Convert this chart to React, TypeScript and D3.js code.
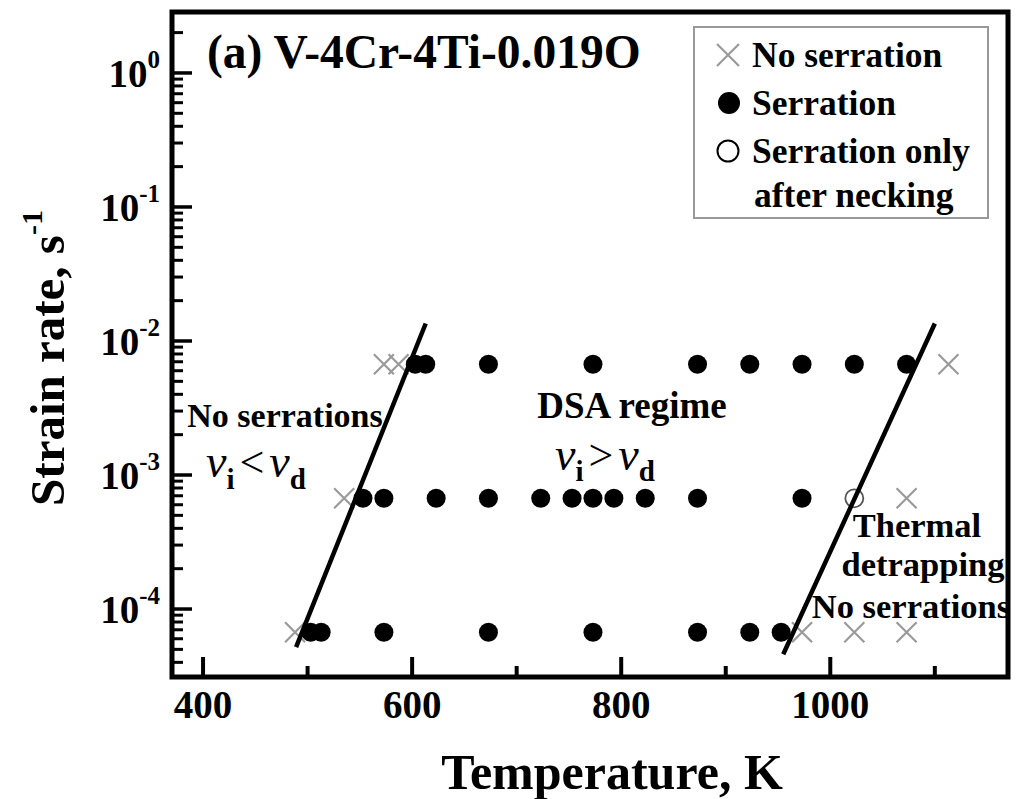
import React from "react";
import * as d3 from "d3";

// ---- data ----
const xTicksMajor = [400, 600, 800, 1000];
const xTicksMinor = [500, 700, 900, 1100];
const yTickExps = [0, -1, -2, -3, -4];

// strain-rate rows
const rateHigh = 6.7e-3;
const rateMid = 6.7e-4;
const rateLow = 6.7e-5;

// Serration (filled circles)
const serrHighT = [603, 613, 673, 773, 873, 923, 973, 1023, 1073];
const serrMidT = [553, 573, 623, 673, 723, 753, 773, 793, 823, 873, 973];
const serrLowT = [503, 513, 573, 673, 773, 873, 923, 953];

// No serration (crosses)
const noSerrHighT = [573, 587, 1113];
const noSerrMidT = [535, 1073];
const noSerrLowT = [488, 973, 1023, 1073];

// Serration only after necking (open circles)
const neckMidT = [1023];

// boundary lines [T, rate]
const leftBoundary: [number, number][] = [[489, 5.2e-5], [613, 1.35e-2]];
const rightBoundary: [number, number][] = [[955, 4.6e-5], [1100, 1.35e-2]];

const FONT = "'Liberation Serif', 'Times New Roman', serif";

export default function App() {
  const W = 1016, H = 799;
  const left = 172, right = 1008, top = 12, bottom = 677;

  const x = d3.scaleLinear().domain([370.3, 1170]).range([left, right]);
  const y = d3.scaleLog().domain([3.11e-5, 2.85]).range([bottom, top]);

  const minorY: number[] = [];
  for (let e = -5; e <= 0; e++) {
    for (let m = 2; m <= 9; m++) {
      const v = m * Math.pow(10, e);
      if (v > 3.11e-5 && v < 2.85) minorY.push(v);
    }
  }

  const mk = (ts: number[], r: number) => ts.map((t) => [t, r] as [number, number]);
  const serr = [...mk(serrHighT, rateHigh), ...mk(serrMidT, rateMid), ...mk(serrLowT, rateLow)];
  const noSerr = [...mk(noSerrHighT, rateHigh), ...mk(noSerrMidT, rateMid), ...mk(noSerrLowT, rateLow)];
  const neck = mk(neckMidT, rateMid);

  const line = d3.line<[number, number]>().x((d) => x(d[0])).y((d) => y(d[1]));

  const cross = (cx: number, cy: number, s: number, key: any) => (
    <path key={key} d={`M${cx - s},${cy - s}L${cx + s},${cy + s}M${cx - s},${cy + s}L${cx + s},${cy - s}`}
      stroke="#9a9a9a" strokeWidth={2.2} fill="none" />
  );

  return (
    <div style={{ position: "absolute", left: 0, top: 0 }}>
      <svg width={W} height={H} style={{ display: "block", background: "#fff" }} fontFamily={FONT}>
        <rect x={0} y={0} width={W} height={H} fill="#fff" />

        {/* data markers */}
        {noSerr.map((d, i) => cross(x(d[0]), y(d[1]), 10, "n" + i))}
        {serr.map((d, i) => (
          <circle key={"s" + i} cx={x(d[0])} cy={y(d[1])} r={9.5} fill="#000" />
        ))}
        {neck.map((d, i) => (
          <circle key={"o" + i} cx={x(d[0])} cy={y(d[1])} r={9} fill="none" stroke="#555" strokeWidth={1.8} />
        ))}

        {/* boundary lines */}
        <path d={line(leftBoundary) || ""} stroke="#000" strokeWidth={4.5} fill="none" />
        <path d={line(rightBoundary) || ""} stroke="#000" strokeWidth={4.5} fill="none" />

        {/* ticks */}
        {xTicksMajor.map((t) => (
          <line key={"xM" + t} x1={x(t)} x2={x(t)} y1={bottom} y2={bottom - 20} stroke="#000" strokeWidth={4} />
        ))}
        {xTicksMinor.map((t) => (
          <line key={"xm" + t} x1={x(t)} x2={x(t)} y1={bottom} y2={bottom - 11} stroke="#000" strokeWidth={4} />
        ))}
        {yTickExps.map((e) => (
          <line key={"yM" + e} x1={left} x2={left + 20} y1={y(Math.pow(10, e))} y2={y(Math.pow(10, e))} stroke="#000" strokeWidth={3.5} />
        ))}
        {minorY.map((v, i) => (
          <line key={"ym" + i} x1={left} x2={left + 11} y1={y(v)} y2={y(v)} stroke="#000" strokeWidth={3} />
        ))}

        {/* frame */}
        <rect x={left} y={top} width={right - left} height={bottom - top} fill="none" stroke="#000" strokeWidth={5} />

        {/* tick labels */}
        {xTicksMajor.map((t) => (
          <text key={"xl" + t} x={x(t)} y={718} textAnchor="middle" fontSize={39} fontWeight="bold">{t}</text>
        ))}
        {yTickExps.map((e) => (
          <text key={"yl" + e} x={160} y={y(Math.pow(10, e)) + 14} textAnchor="end" fontSize={39} fontWeight="bold">
            10<tspan fontSize={25} dy={-19}>{e === 0 ? "0" : "-" + Math.abs(e)}</tspan>
          </text>
        ))}

        {/* axis titles */}
        <text x={612} y={789} textAnchor="middle" fontSize={50} fontWeight="bold">Temperature, K</text>
        <text transform="translate(64,358) rotate(-90)" textAnchor="middle" fontSize={49} fontWeight="bold">
          Strain rate, s<tspan fontSize={30} dy={-22}>-1</tspan>
        </text>

        {/* panel title */}
        <text x={207} y={68} fontSize={47.5} fontWeight="bold">(a) V-4Cr-4Ti-0.019O</text>

        {/* legend */}
        <rect x={694} y={27} width={294} height={191} fill="#fff" stroke="#999" strokeWidth={2} />
        {cross(728, 55, 11, "lgx")}
        <text x={752} y={67} fontSize={35.5} fontWeight="bold">No serration</text>
        <circle cx={729} cy={103} r={11} fill="#000" />
        <text x={752} y={115} fontSize={35.5} fontWeight="bold">Serration</text>
        <circle cx={728} cy={151} r={10.5} fill="none" stroke="#000" strokeWidth={2} />
        <text x={752} y={163} fontSize={35.5} fontWeight="bold">Serration only</text>
        <text x={754} y={207} fontSize={35.5} fontWeight="bold">after necking</text>

        {/* region annotations */}
        <text x={285} y={427} textAnchor="middle" fontSize={34} fontWeight="bold">No serrations</text>
        <text x={206} y={477}>
          <tspan fontSize={46} fontStyle="italic">v</tspan>
          <tspan fontSize={29} fontWeight="bold" dy={12}>i</tspan>
          <tspan fontSize={44} dy={-12} dx={5}>&lt;</tspan>
          <tspan fontSize={46} fontStyle="italic" dx={5}>v</tspan>
          <tspan fontSize={29} fontWeight="bold" dy={12}>d</tspan>
        </text>

        <text x={632} y={418} textAnchor="middle" fontSize={37} fontWeight="bold">DSA regime</text>
        <text x={555} y={470}>
          <tspan fontSize={46} fontStyle="italic">v</tspan>
          <tspan fontSize={29} fontWeight="bold" dy={11}>i</tspan>
          <tspan fontSize={44} dy={-11} dx={5}>&gt;</tspan>
          <tspan fontSize={46} fontStyle="italic" dx={5}>v</tspan>
          <tspan fontSize={29} fontWeight="bold" dy={11}>d</tspan>
        </text>

        <text x={917} y={537} textAnchor="middle" fontSize={34.5} fontWeight="bold">Thermal</text>
        <text x={923} y={576} textAnchor="middle" fontSize={34.5} fontWeight="bold">detrapping</text>
        <text x={911} y={618} textAnchor="middle" fontSize={34.5} fontWeight="bold">No serrations</text>
      </svg>
    </div>
  );
}
